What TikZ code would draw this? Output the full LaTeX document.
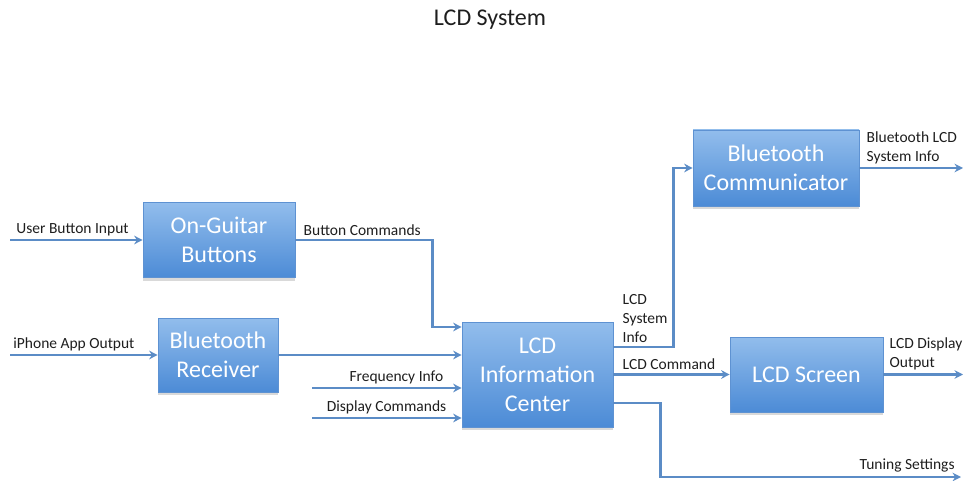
\documentclass[tikz,border=0pt]{standalone}
\usepackage{fontspec}
\setmainfont{Carlito}
\usetikzlibrary{arrows.meta,positioning,shadows}
\definecolor{lcdInk}{HTML}{1E1E1E}
\definecolor{lcdTop}{HTML}{92BDEC}
\definecolor{lcdBottom}{HTML}{4C8BD6}
\definecolor{lcdEdge}{HTML}{5E92D2}
\definecolor{lcdLine}{HTML}{5B8CC6}
\tikzset{
  every picture/.style={text=lcdInk},
  lcd box/.style={draw=lcdEdge, line width=0.6pt, top color=lcdTop,
    bottom color=lcdBottom, text=white, align=center, inner sep=0pt,
    font=\fontsize{24}{29}\selectfont,
    drop shadow={opacity=0.3, shadow xshift=0pt, shadow yshift=-3pt}},
  lcd arrow/.style={-{Stealth[length=3mm,width=3mm]},
    draw=lcdLine, line width=2.8pt, line cap=butt},
  lcd label/.style={font=\fontsize{15.5}{19}\selectfont, text=lcdInk,
    inner sep=1pt, align=left}
}

\begin{document}
\begin{tikzpicture}[x=1pt,y=-1pt]
  \useasboundingbox (0,0) rectangle (964,481);
  \node[font=\fontsize{24}{28}\selectfont] (title) at (490,20) {LCD System};

  % blocks
  \node[lcd box, minimum width=152pt, minimum height=75pt] (buttons) at (219,240) {On-Guitar\\Buttons};
  \node[lcd box, minimum width=120pt, minimum height=74pt] (btrecv) at (218,355) {Bluetooth\\Receiver};
  \node[lcd box, minimum width=151pt, minimum height=105pt] (infoctr) at (537.5,374.5) {LCD\\Information\\Center};
  \node[lcd box, minimum width=166pt, minimum height=76pt] (btcomm) at (776,168) {Bluetooth\\Communicator};
  \node[lcd box, minimum width=153pt, minimum height=75pt] (lcdscr) at (806.5,374.5) {LCD Screen};

  % free ends
  \coordinate (userin) at (10,240);
  \coordinate (phonein) at (10,355);
  \coordinate (freqin) at (312,388);
  \coordinate (dispin) at (312,418);
  \coordinate (btout) at (963,168);
  \coordinate (scrout) at (963,374.5);
  \coordinate (tuneout) at (961,477);

  % inputs
  \draw[lcd arrow] (userin) -- node[lcd label, pos=0, anchor=south west, xshift=4pt, yshift=2pt] {User Button Input} (buttons.west);
  \draw[lcd arrow] (phonein) -- node[lcd label, pos=0, anchor=south west, xshift=1pt, yshift=2pt] {iPhone App Output} (btrecv.west);
  \draw[lcd arrow] (buttons.east) -- node[lcd label, pos=0, anchor=south west, xshift=6pt, yshift=2pt] {Button Commands} ++(137,0) |- ([yshift=47.5pt]infoctr.west);
  \draw[lcd arrow] (btrecv.east) -- (infoctr.west |- btrecv.east);
  \draw[lcd arrow] (freqin) -- node[lcd label, pos=1, anchor=south east, xshift=-16pt, yshift=2pt] {Frequency Info} (infoctr.west |- freqin);
  \draw[lcd arrow] (dispin) -- node[lcd label, pos=1, anchor=south east, xshift=-13pt, yshift=2pt] {Display Commands} (infoctr.west |- dispin);

  % outputs
  \draw[lcd arrow] ([yshift=27.5pt]infoctr.east) -- node[lcd label, pos=0, anchor=south west, xshift=7pt, yshift=2pt] {LCD\\System\\Info} ++(60,0) |- (btcomm.west);
  \draw[lcd arrow] (infoctr.east) -- node[lcd label, pos=0, anchor=south west, xshift=7pt, yshift=2pt] {LCD Command} (lcdscr.west);
  \draw[lcd arrow] ([yshift=-28.5pt]infoctr.east) -- ++(47,0) |- node[lcd label, pos=1, anchor=south east, xshift=-4pt, yshift=2pt] {Tuning Settings} (tuneout);
  \draw[lcd arrow] (btcomm.east) -- node[lcd label, pos=0, anchor=south west, xshift=5pt, yshift=2pt] {Bluetooth LCD\\System Info} (btout);
  \draw[lcd arrow] (lcdscr.east) -- node[lcd label, pos=0, anchor=south west, xshift=4pt, yshift=2pt] {LCD Display\\Output} (scrout);
\end{tikzpicture}
\end{document}
